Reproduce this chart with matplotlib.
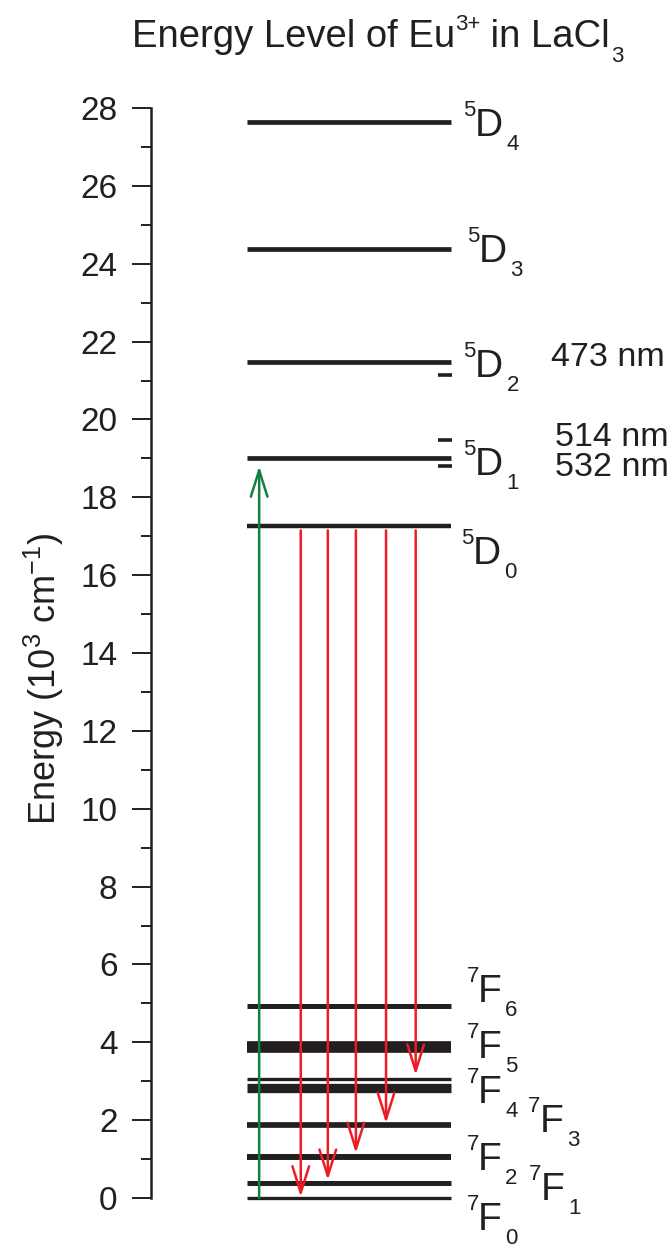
import matplotlib
matplotlib.use('Agg')
import matplotlib.pyplot as plt
from matplotlib.ticker import MultipleLocator

plt.rcParams['font.family'] = ['Liberation Sans', 'DejaVu Sans']
plt.rcParams['mathtext.fontset'] = 'custom'
plt.rcParams['mathtext.rm'] = 'Liberation Sans'
plt.rcParams['mathtext.it'] = 'Liberation Sans:italic'
plt.rcParams['mathtext.bf'] = 'Liberation Sans:bold'

ink = '#231f20'
red = '#ed1c24'
green = '#12803e'

# Energieniveaus (10^3 cm^-1)
levels = [27.63, 24.39, 21.48, 19.02, 17.27,
          4.93, 3.89, 3.05, 2.82, 1.87, 1.05, 0.38, 0.0]
level_lw = [3.4, 3.4, 3.4, 3.4, 3.2,
            3.6, 8.4, 2.4, 6.7, 4.1, 4.3, 3.6, 2.4]

# Laserlinien
laser_nm = ['473 nm', '514 nm', '532 nm']
laser_E = [21.14, 19.46, 18.80]

# Termbezeichnungen
term_sup = ['5', '5', '5', '5', '5', '7', '7', '7', '7', '7', '7', '7']
term_main = ['D', 'D', 'D', 'D', 'D', 'F', 'F', 'F', 'F', 'F', 'F', 'F']
term_sub = ['4', '3', '2', '1', '0', '6', '5', '4', '3', '2', '1', '0']
term_x = [6.22, 6.30, 6.23, 6.23, 6.19, 6.29, 6.29, 6.29, 7.48, 6.29, 7.50, 6.29]
term_y = [27.28, 24.05, 21.09, 18.57, 16.28, 5.04, 3.59, 2.43, 1.70, 0.72, -0.05, -0.82]

# Anregung (gruen) und Emission (rot)
pump_x = 2.08
pump_E = (0.0, 18.80)
emis_x = [2.88, 3.40, 3.94, 4.52, 5.09]
emis_start = 17.15
emis_end = [0.03, 0.46, 1.15, 1.92, 3.16]

fig = plt.figure(figsize=(6.72, 12.5), dpi=100)
ax = fig.add_axes([151 / 672, 1 - 1198 / 1250, 520 / 672, 1090 / 1250])
ax.set_xlim(0, 10)
ax.set_ylim(0, 28)

for E, lw in zip(levels, level_lw):
    ax.plot([1.84, 5.77], [E, E], color=ink, lw=lw, solid_capstyle='butt',
            zorder=2, clip_on=False)
for E in laser_E:
    ax.plot([5.52, 5.79], [E, E], color=ink, lw=2.6, solid_capstyle='butt', clip_on=False)

head = '->,head_length=1.9,head_width=0.6'
ax.annotate('', xy=(pump_x, pump_E[1]), xytext=(pump_x, pump_E[0]),
            arrowprops=dict(arrowstyle=head, mutation_scale=10, lw=1.8,
                            color=green, shrinkA=0, shrinkB=0), zorder=3)
for x, e in zip(emis_x, emis_end):
    ax.annotate('', xy=(x, e), xytext=(x, emis_start),
                arrowprops=dict(arrowstyle=head, mutation_scale=10, lw=1.8,
                                color=red, shrinkA=0, shrinkB=0), zorder=3)

for s, m, b, x, y in zip(term_sup, term_main, term_sub, term_x, term_y):
    t = ax.text(x, y, m, fontsize=28, color=ink, ha='left', va='baseline')
    ax.annotate(s, xy=(0, y), xycoords=(t, 'data'), xytext=(0.5, 14.5),
                textcoords='offset points', fontsize=16, color=ink,
                ha='right', va='baseline', annotation_clip=False)
    ax.annotate(b, xy=(1, y), xycoords=(t, 'data'), xytext=(2.5, -10),
                textcoords='offset points', fontsize=16, color=ink,
                ha='left', va='baseline', annotation_clip=False)

for lab, yb, xl in zip(laser_nm, [21.37, 19.32, 18.55], [7.70, 7.76, 7.76]):
    ax.text(xl, yb, lab, fontsize=24.5, color=ink, ha='left', va='baseline')

# Titel mit hoch-/tiefgestellten Teilen
ty = 1 - 46.7 / 1250
t1 = fig.text(132 / 672, ty, 'Energy Level of Eu', fontsize=27.5, color=ink, va='baseline')
s1 = ax.annotate('3+', xy=(1, ty), xycoords=(t1, 'figure fraction'), xytext=(0, 12),
                 textcoords='offset points', fontsize=16, color=ink, va='baseline',
                 annotation_clip=False)
t2 = ax.annotate(' in LaCl', xy=(1, ty), xycoords=(s1, 'figure fraction'), xytext=(0, 0),
                 textcoords='offset points', fontsize=27.5, color=ink, va='baseline',
                 annotation_clip=False)
ax.annotate('3', xy=(1, ty), xycoords=(t2, 'figure fraction'), xytext=(1, -11),
            textcoords='offset points', fontsize=16, color=ink, va='baseline',
            annotation_clip=False)

fig.text(44 / 672, 1 - 679 / 1250, r'Energy (10$^{3}$ cm$^{-1}$)', fontsize=26,
         color=ink, rotation=90, ha='center', va='center')

for side in ['top', 'right', 'bottom']:
    ax.spines[side].set_visible(False)
ax.spines['left'].set_linewidth(1.8)
ax.spines['left'].set_color(ink)
ax.set_xticks([])
ax.yaxis.set_major_locator(MultipleLocator(2))
ax.yaxis.set_minor_locator(MultipleLocator(1))
ax.tick_params(axis='y', which='major', direction='out', length=13.7, width=1.4,
               labelsize=24, pad=10.5, colors=ink)
ax.tick_params(axis='y', which='minor', direction='out', length=7.2, width=1.4, colors=ink)

fig.savefig('out.png', dpi=100)
